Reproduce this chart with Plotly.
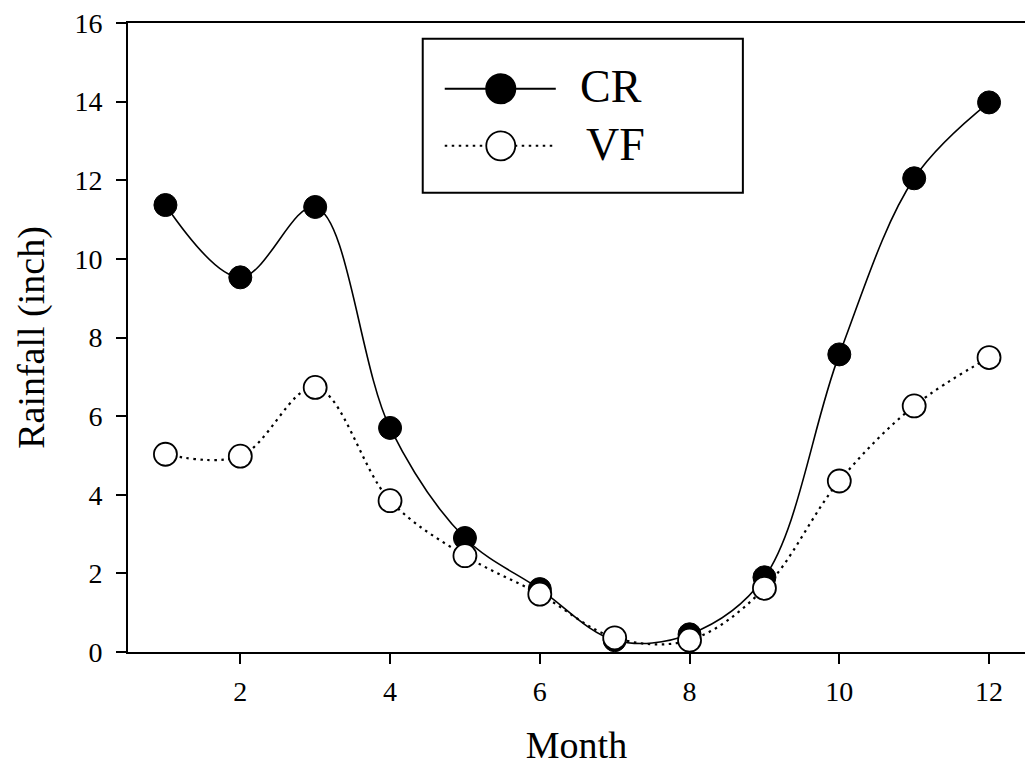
import plotly.graph_objects as go

months = [1, 2, 3, 4, 5, 6, 7, 8, 9, 10, 11, 12]
cr = [11.37, 9.53, 11.32, 5.70, 2.90, 1.60, 0.30, 0.45, 1.90, 7.57, 12.05, 13.98]
vf = [5.03, 4.98, 6.73, 3.85, 2.45, 1.47, 0.36, 0.30, 1.62, 4.35, 6.26, 7.49]
series_names = ["CR", "VF"]
x_ticks = [2, 4, 6, 8, 10, 12]
y_ticks = [0, 2, 4, 6, 8, 10, 12, 14, 16]

FONT = "Liberation Serif, Times New Roman, serif"
W, H = 1025, 771
L, R, T, B = 128.4, 1025, 23.3, 651.7

fig = go.Figure()
fig.add_trace(go.Scatter(
    x=months, y=cr, name=series_names[0], mode="lines+markers",
    line=dict(color="black", width=1.6, shape="spline", smoothing=1.0),
    marker=dict(size=23, color="black", line=dict(color="black", width=1)),
    showlegend=False, cliponaxis=False))
fig.add_trace(go.Scatter(
    x=months, y=vf, name=series_names[1], mode="lines+markers",
    line=dict(color="black", width=2.2, shape="spline", smoothing=1.0, dash="2.5px,4.5px"),
    marker=dict(size=23, color="white", line=dict(color="black", width=1.8)),
    showlegend=False, cliponaxis=False))


def px2paper(px, py):
    return (px - L) / (R - L), (B - py) / (B - T)


shapes = []
# legend box
x0, y0 = px2paper(423, 193)
x1, y1 = px2paper(743, 39)
shapes.append(dict(type="rect", xref="paper", yref="paper", x0=x0, y0=y0, x1=x1, y1=y1,
                   line=dict(color="black", width=2), fillcolor="white", layer="above"))
for py, solid, fill, lw in [(89, True, "black", 2), (146, False, "white", 1.8)]:
    a, yy = px2paper(445, py)
    b, _ = px2paper(556, py)
    shapes.append(dict(type="line", xref="paper", yref="paper", x0=a, y0=yy, x1=b, y1=yy,
                       line=dict(color="black", width=2, dash=("solid" if solid else "2.5px,4.5px")),
                       layer="above"))
    cx0, cy0 = px2paper(501 - 14.5, py + 14.5)
    cx1, cy1 = px2paper(501 + 14.5, py - 14.5)
    shapes.append(dict(type="circle", xref="paper", yref="paper", x0=cx0, y0=cy0, x1=cx1, y1=cy1,
                       fillcolor=fill, line=dict(color="black", width=lw), layer="above"))

annotations = []
for name, py, pxl in [(series_names[0], 87, 578), (series_names[1], 145, 584)]:
    ax, ay = px2paper(pxl, py)
    annotations.append(dict(text=name, xref="paper", yref="paper", x=ax, y=ay,
                            xanchor="left", yanchor="middle", showarrow=False,
                            font=dict(family=FONT, size=46, color="black")))

fig.update_layout(
    width=W, height=H,
    margin=dict(l=L, r=W - R, t=T, b=H - B),
    paper_bgcolor="white", plot_bgcolor="white",
    font=dict(family=FONT, color="black"),
    shapes=shapes, annotations=annotations,
    showlegend=False,
)
fig.update_xaxes(
    range=[0.5, 12.48], tickvals=x_ticks, ticks="outside", ticklen=10, tickwidth=2,
    tickcolor="black", showline=True, linecolor="black", linewidth=2, mirror=True,
    showgrid=False, zeroline=False, tickfont=dict(family=FONT, size=28),
    ticklabelstandoff=3,
    title=dict(text="Month", font=dict(family=FONT, size=38), standoff=26),
)
fig.update_yaxes(
    range=[0, 16], tickvals=y_ticks, ticks="outside", ticklen=10, tickwidth=2,
    tickcolor="black", showline=True, linecolor="black", linewidth=2, mirror=False,
    showgrid=False, zeroline=False, tickfont=dict(family=FONT, size=28),
    ticklabelstandoff=8,
    title=dict(text="Rainfall (inch)", font=dict(family=FONT, size=38), standoff=18),
)

fig.write_html("out.html", config={"displayModeBar": False},
               post_script="document.body.style.margin='0px';")
